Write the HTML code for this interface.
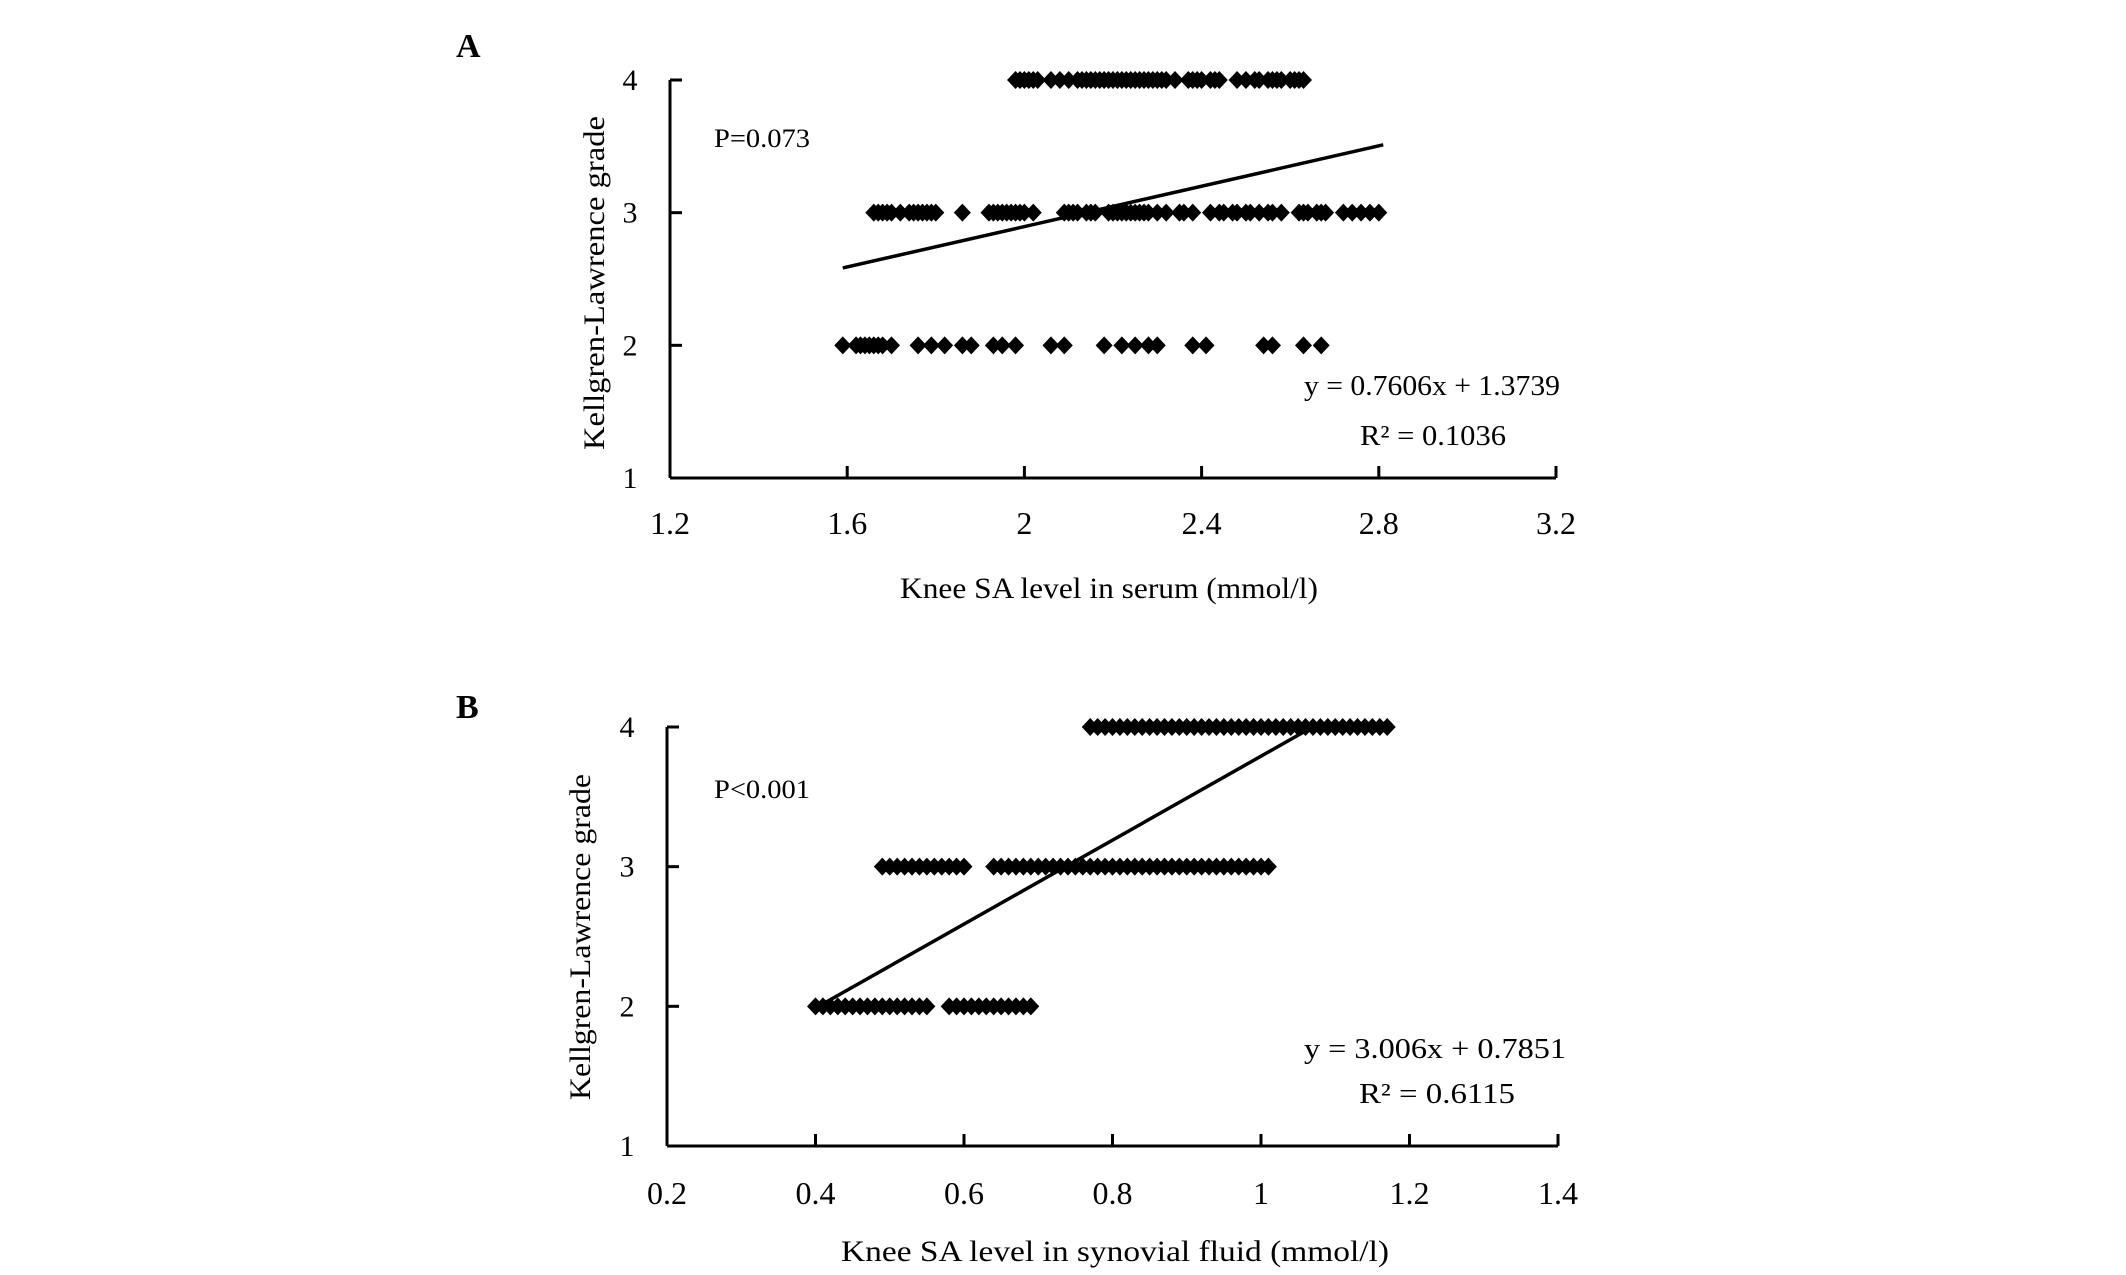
<!DOCTYPE html>
<html><head><meta charset="utf-8"><style>
html,body{margin:0;padding:0;background:#fff;}
svg{display:block;font-family:"Liberation Serif",serif;}
</style></head><body>
<svg id="chart" width="2126" height="1275" viewBox="0 0 2126 1275">
<g id="panelA"></g>
<g id="panelB"></g>
</svg>
<script>
// Panel A data (serum)
const aXTicks = [1.2, 1.6, 2.0, 2.4, 2.8, 3.2];
const aXTickLabels = ["1.2", "1.6", "2", "2.4", "2.8", "3.2"];
const aYTicks = [1, 2, 3, 4];
const aGrade4 = [1.98,1.99,2.00,2.01,2.02,2.03,2.06,2.08,2.10,2.12,2.13,2.14,2.15,2.16,2.17,2.18,2.19,2.20,2.21,2.22,2.23,2.24,2.25,2.26,2.27,2.28,2.29,2.30,2.31,2.32,2.34,2.37,2.38,2.39,2.40,2.42,2.43,2.44,2.48,2.50,2.52,2.53,2.55,2.56,2.57,2.58,2.60,2.61,2.62,2.63];
const aGrade3 = [1.66,1.67,1.68,1.69,1.70,1.72,1.74,1.75,1.76,1.77,1.78,1.79,1.80,1.86,1.92,1.93,1.94,1.95,1.96,1.97,1.98,1.99,2.00,2.02,2.09,2.10,2.11,2.12,2.14,2.15,2.16,2.19,2.20,2.21,2.22,2.23,2.24,2.25,2.26,2.27,2.28,2.30,2.32,2.35,2.36,2.38,2.42,2.44,2.45,2.47,2.48,2.50,2.51,2.53,2.55,2.56,2.58,2.62,2.63,2.64,2.66,2.67,2.68,2.72,2.74,2.76,2.78,2.80];
const aGrade2 = [1.59,1.62,1.63,1.64,1.65,1.66,1.67,1.68,1.70,1.76,1.79,1.82,1.86,1.88,1.93,1.95,1.98,2.06,2.09,2.18,2.22,2.25,2.28,2.30,2.38,2.41,2.54,2.56,2.63,2.67];
const aSlope = 0.7606, aIntercept = 1.3739, aFitRange = [1.59, 2.81];

// Panel B data (synovial fluid)
const bXTicks = [0.2, 0.4, 0.6, 0.8, 1.0, 1.2, 1.4];
const bXTickLabels = ["0.2", "0.4", "0.6", "0.8", "1", "1.2", "1.4"];
const bYTicks = [1, 2, 3, 4];
const bGrade4 = [0.77,0.78,0.79,0.80,0.81,0.82,0.83,0.84,0.85,0.86,0.87,0.88,0.89,0.90,0.91,0.92,0.93,0.94,0.95,0.96,0.97,0.98,0.99,1.00,1.01,1.02,1.03,1.04,1.05,1.06,1.07,1.08,1.09,1.10,1.11,1.12,1.13,1.14,1.15,1.16,1.17];
const bGrade3 = [0.49,0.50,0.51,0.52,0.53,0.54,0.55,0.56,0.57,0.58,0.59,0.60,0.64,0.65,0.66,0.67,0.68,0.69,0.70,0.71,0.72,0.73,0.74,0.75,0.76,0.77,0.78,0.79,0.80,0.81,0.82,0.83,0.84,0.85,0.86,0.87,0.88,0.89,0.90,0.91,0.92,0.93,0.94,0.95,0.96,0.97,0.98,0.99,1.00,1.01];
const bGrade2 = [0.40,0.41,0.42,0.43,0.44,0.45,0.46,0.47,0.48,0.49,0.50,0.51,0.52,0.53,0.54,0.55,0.58,0.59,0.60,0.61,0.62,0.63,0.64,0.65,0.66,0.67,0.68,0.69];
const bSlope = 3.006, bIntercept = 0.7851, bFitRange = [0.41, 1.07];

const NS = "http://www.w3.org/2000/svg";
function mk(tag, parent, attrs, text){
  const el = document.createElementNS(NS, tag);
  for (const k in attrs) el.setAttribute(k, attrs[k]);
  if (text !== undefined) el.textContent = text;
  parent.appendChild(el);
  return el;
}

function drawPanel(g, cfg){
  const xs = v => cfg.x0 + (v - cfg.xmin) / (cfg.xmax - cfg.xmin) * (cfg.x1 - cfg.x0);
  const ys = v => cfg.y1 - (v - 1) / 3 * (cfg.y1 - cfg.y0);
  const yAxis = mk('line', g, {x1:cfg.x0, y1:ys(4), x2:cfg.x0, y2:ys(1), stroke:'#000', 'stroke-width':3});
  
  
  const xAxis = mk('line', g, {x1:cfg.x0, y1:ys(1), x2:cfg.x1, y2:ys(1), stroke:'#000', 'stroke-width':3});
  
  
  cfg.yTicks.forEach(t => {
    const tk = mk('line', g, {x1:cfg.x0, y1:ys(t), x2:cfg.x0+12, y2:ys(t), stroke:'#000', 'stroke-width':3});
    
    
    const lb = mk('text', g, {x:cfg.x0-40, y:ys(t)+10, 'font-size':30, 'text-anchor':'middle'}, String(t));
    
    
  });
  cfg.xTicks.forEach((t, i) => {
    const x = xs(t);
    const tk = mk('line', g, {x1:x, y1:ys(1), x2:x, y2:ys(1)-12, stroke:'#000', 'stroke-width':3});
    
    
    const lb = mk('text', g, {x:x, y:cfg.tickLabelY, 'font-size':32, 'text-anchor':'middle'}, cfg.xLabels[i]);
    
    
  });
  const rows = [[cfg.g4, 4], [cfg.g3, 3], [cfg.g2, 2]];
  rows.forEach(([arr, grade]) => {
    arr.forEach(v => {
      const cx = xs(v), cy = ys(grade), rx = 8.5, ry = 9;
      const p = mk('path', g, {d:`M${cx-rx},${cy}L${cx},${cy-ry}L${cx+rx},${cy}L${cx},${cy+ry}Z`, fill:'#000'});
      
      
    });
  });
  const fx0 = cfg.fit[0], fx1 = cfg.fit[1];
  const tl = mk('line', g, {x1:xs(fx0), y1:ys(cfg.slope*fx0+cfg.intercept), x2:xs(fx1), y2:ys(cfg.slope*fx1+cfg.intercept), stroke:'#000', 'stroke-width':3.5});
  
  
}

const gA = document.getElementById('panelA');
drawPanel(gA, {x0:670, x1:1556, xmin:1.2, xmax:3.2, y0:80, y1:478, yTicks:aYTicks, xTicks:aXTicks, xLabels:aXTickLabels, tickLabelY:534, g4:aGrade4, g3:aGrade3, g2:aGrade2, slope:aSlope, intercept:aIntercept, fit:aFitRange});
const gB = document.getElementById('panelB');
drawPanel(gB, {x0:667, x1:1558, xmin:0.2, xmax:1.4, y0:727, y1:1146, yTicks:bYTicks, xTicks:bXTicks, xLabels:bXTickLabels, tickLabelY:1204, g4:bGrade4, g3:bGrade3, g2:bGrade2, slope:bSlope, intercept:bIntercept, fit:bFitRange});
</script>
<script>
(function(){
  const svg = document.getElementById('chart');
  const NS2 = "http://www.w3.org/2000/svg";
  function t(x,y,size,str,opts){
    const el = document.createElementNS(NS2,'text');
    el.setAttribute('x',x); el.setAttribute('y',y); el.setAttribute('font-size',size);
    if (opts) for (const k in opts) el.setAttribute(k, opts[k]);
    el.textContent = str;
    svg.appendChild(el);
    return el;
  }
  let e;
  e = t(456,57,34,"A",{'font-weight':'bold'});
  
  
  e = t(456,718,34,"B",{'font-weight':'bold'});
  
  
  e = t(714,147,26,"P=0.073",{textLength:96,lengthAdjust:'spacingAndGlyphs'});
  
  
  e = t(714,798,26,"P<0.001",{textLength:96,lengthAdjust:'spacingAndGlyphs'});
  
  
  e = t(1304,395,29,"y = 0.7606x + 1.3739",{textLength:256,lengthAdjust:'spacingAndGlyphs'});
  
  
  e = t(1360,445,29,"R² = 0.1036",{textLength:146,lengthAdjust:'spacingAndGlyphs'});
  
  
  e = t(1304,1058,29,"y = 3.006x + 0.7851",{textLength:262,lengthAdjust:'spacingAndGlyphs'});
  
  
  e = t(1359,1103,29,"R² = 0.6115",{textLength:156,lengthAdjust:'spacingAndGlyphs'});
  
  
  e = t(1109,598,30,"Knee SA level in serum (mmol/l)",{'text-anchor':'middle',textLength:418,lengthAdjust:'spacingAndGlyphs'});
  
  
  e = t(1115,1261,30,"Knee SA level in synovial fluid (mmol/l)",{'text-anchor':'middle',textLength:548,lengthAdjust:'spacingAndGlyphs'});
  
  
  e = t(0,0,30,"Kellgren-Lawrence grade",{'text-anchor':'middle',textLength:334,lengthAdjust:'spacingAndGlyphs',transform:'translate(604,283) rotate(-90)'});
  
  
  e = t(0,0,30,"Kellgren-Lawrence grade",{'text-anchor':'middle',textLength:326,lengthAdjust:'spacingAndGlyphs',transform:'translate(590,937) rotate(-90)'});
  
  
})();
</script>
</body></html>
